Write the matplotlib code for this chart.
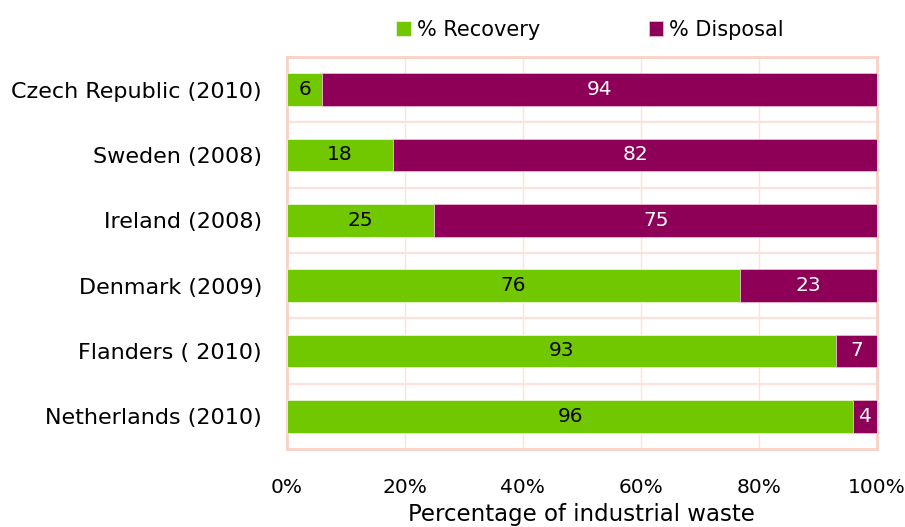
import numpy as np
import matplotlib.pyplot as plt
from matplotlib.ticker import FuncFormatter

plt.rcParams['font.family'] = ['DejaVu Sans']

categories = ['Czech Republic (2010)', 'Sweden (2008)', 'Ireland (2008)',
              'Denmark (2009)', 'Flanders ( 2010)', 'Netherlands (2010)']
recovery = np.array([6, 18, 25, 76, 93, 96])
disposal = np.array([94, 82, 75, 23, 7, 4])

green = '#72C800'
purple = '#8E0058'
grid_c = '#FCE2DA'

# 100% stacked -> normalise each row
total = recovery + disposal
rec_p = recovery / total * 100
dis_p = disposal / total * 100

fig = plt.figure(figsize=(9.05, 5.27), dpi=100)
ax = fig.add_axes([0.317, 0.148, 0.652, 0.744])

y = np.arange(len(categories))
b1 = ax.barh(y, rec_p, height=0.5, color=green, edgecolor='#E8F5D0', linewidth=0.6,
             label='% Recovery', zorder=3)
b2 = ax.barh(y, dis_p, left=rec_p, height=0.5, color=purple, edgecolor='#E9B8CC',
             linewidth=0.6, label='% Disposal', zorder=3)

for i in range(len(categories)):
    ax.text(rec_p[i] / 2, y[i], str(recovery[i]), ha='center', va='center',
            fontsize=14.5, color='black', zorder=4)
    ax.text(rec_p[i] + dis_p[i] / 2, y[i], str(disposal[i]), ha='center', va='center',
            fontsize=14.5, color='white', zorder=4)

ax.set_ylim(len(categories) - 0.5, -0.5)
ax.set_xlim(0, 100)
ax.set_yticks(y)
ax.set_yticklabels(categories, fontsize=16)
ax.set_xticks(np.arange(0, 101, 20))
ax.xaxis.set_major_formatter(FuncFormatter(lambda v, p: f'{v:.0f}%'))
ax.tick_params(axis='x', labelsize=14.5, length=0, pad=21)
ax.tick_params(axis='y', length=0, pad=18)

# gridlines: vertical at ticks, horizontal at category boundaries
for xv in np.arange(20, 100, 20):
    ax.axvline(xv, color=grid_c, lw=1, zorder=1)
for yv in np.arange(0.5, len(categories) - 0.5, 1):
    ax.axhline(yv, color=grid_c, lw=1.5, zorder=1)

for s in ax.spines.values():
    s.set_color('#F9D0C4')
    s.set_linewidth(2)

fig.text(0.643, 0.002, 'Percentage of industrial waste', ha='center', va='bottom',
         fontsize=16.5)

fig.legend(handles=[b1, b2], loc='center', bbox_to_anchor=(0.652, 0.943), ncol=2,
           frameon=False, fontsize=15, handlelength=0.7, handleheight=0.7,
           handletextpad=0.3, columnspacing=5.2)

fig.savefig('out.png', dpi=100)
